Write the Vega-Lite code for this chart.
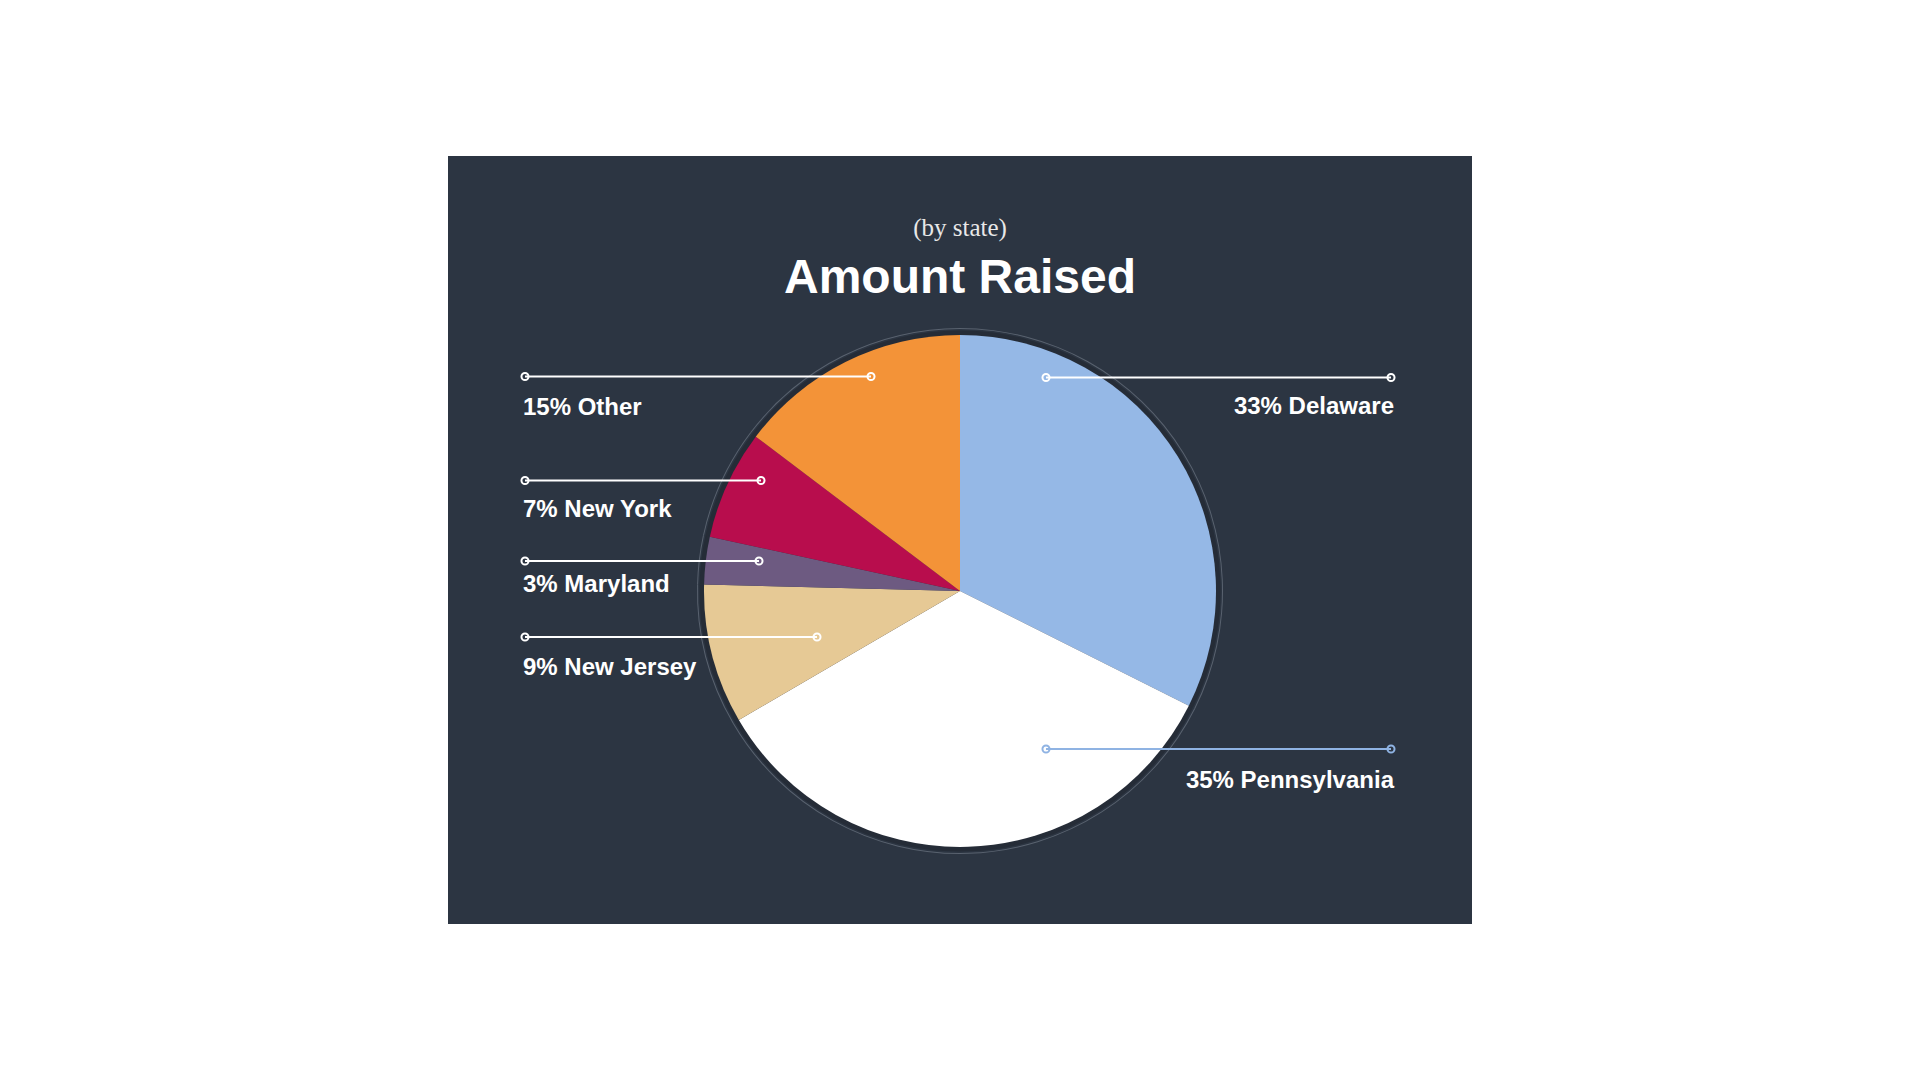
{
  "$schema": "https://vega.github.io/schema/vega-lite/v6.json",
  "width": 1024,
  "height": 768,
  "padding": {"left": 448, "top": 156, "right": 448, "bottom": 156},
  "background": "#ffffff",
  "config": {
    "view": {"fill": "#2c3542", "stroke": null}
  },
  "title": {
    "text": "(by state)",
    "subtitle": "Amount Raised",
    "anchor": "middle",
    "font": "Liberation Serif",
    "fontSize": 25,
    "fontWeight": "normal",
    "color": "#e8e8e8",
    "subtitleFont": "Liberation Sans",
    "subtitleFontSize": 48,
    "subtitleFontWeight": "bold",
    "subtitleColor": "#ffffff",
    "subtitlePadding": 14,
    "offset": -147
  },
  "data": {
    "values": [
      {"state": "Delaware", "share": 32.4, "label": "33% Delaware", "pos": 1, "side": "right"},
      {"state": "Pennsylvania", "share": 34.2, "label": "35% Pennsylvania", "pos": 2, "side": "right"},
      {"state": "New Jersey", "share": 8.8, "label": "9% New Jersey", "pos": 3, "side": "left"},
      {"state": "Maryland", "share": 3.0, "label": "3% Maryland", "pos": 4, "side": "left"},
      {"state": "New York", "share": 6.9, "label": "7% New York", "pos": 5, "side": "left"},
      {"state": "Other", "share": 14.7, "label": "15% Other", "pos": 6, "side": "left"}
    ]
  },
  "transform": [
    {"calculate": "datum.pos + 10", "as": "pos_out"}
  ],
  "layer": [
    {
      "mark": {"type": "arc", "outerRadius": 263, "innerRadius": 262, "fill": "#59626f", "yOffset": 51},
      "encoding": {
        "theta": {"field": "share", "type": "quantitative", "stack": true},
        "order": {"field": "pos", "type": "quantitative"}
      }
    },
    {
      "mark": {"type": "arc", "outerRadius": 260.5, "innerRadius": 248, "fill": "#252c37", "yOffset": 51},
      "encoding": {
        "theta": {"field": "share", "type": "quantitative", "stack": true},
        "order": {"field": "pos", "type": "quantitative"}
      }
    },
    {
      "mark": {"type": "arc", "outerRadius": 256, "yOffset": 51},
      "encoding": {
        "theta": {"field": "share", "type": "quantitative", "stack": true},
        "order": {"field": "pos", "type": "quantitative"},
        "color": {
          "field": "state",
          "type": "nominal",
          "legend": null,
          "scale": {
            "domain": ["Delaware", "Pennsylvania", "New Jersey", "Maryland", "New York", "Other"],
            "range": ["#95b8e6", "#ffffff", "#e6c995", "#6d5a81", "#b80d4d", "#f39338"]
          }
        }
      }
    },
    {
      "mark": {"type": "rule", "strokeWidth": 2},
      "encoding": {
        "x": {
          "field": "pos",
          "type": "quantitative",
          "axis": null,
          "scale": {
            "domain": [1, 2, 3, 4, 5, 6, 11, 12, 13, 14, 15, 16],
            "range": [598, 598, 369, 311, 313, 423, 943, 943, 77, 77, 77, 77],
            "nice": false,
            "zero": false
          }
        },
        "x2": {"field": "pos_out"},
        "y": {
          "field": "pos",
          "type": "quantitative",
          "axis": null,
          "scale": {
            "domain": [1, 2, 3, 4, 5, 6, 11, 12, 13, 14, 15, 16],
            "range": [221.5, 593, 481, 405, 324.5, 220.5, 258, 632, 519, 436, 361, 259],
            "nice": false,
            "zero": false
          }
        },
        "color": {
          "condition": {"test": "datum.state === 'Pennsylvania'", "value": "#8fb3e3"},
          "value": "#ffffff"
        }
      }
    },
    {
      "mark": {"type": "point", "filled": false, "size": 50, "strokeWidth": 2, "opacity": 1},
      "encoding": {
        "x": {"field": "pos", "type": "quantitative"},
        "y": {"field": "pos", "type": "quantitative"},
        "color": {
          "condition": {"test": "datum.state === 'Pennsylvania'", "value": "#8fb3e3"},
          "value": "#ffffff"
        }
      }
    },
    {
      "mark": {"type": "point", "filled": false, "size": 50, "strokeWidth": 2, "opacity": 1},
      "encoding": {
        "x": {"field": "pos_out", "type": "quantitative"},
        "y": {"field": "pos", "type": "quantitative"},
        "color": {
          "condition": {"test": "datum.state === 'Pennsylvania'", "value": "#8fb3e3"},
          "value": "#ffffff"
        }
      }
    },
    {
      "transform": [{"filter": "datum.side === 'left'"}],
      "mark": {"type": "text", "align": "left", "baseline": "alphabetic", "dx": -2, "font": "Liberation Sans", "fontWeight": "bold", "fontSize": 24, "color": "#ffffff"},
      "encoding": {
        "x": {"field": "pos_out", "type": "quantitative"},
        "y": {"field": "pos_out", "type": "quantitative"},
        "text": {"field": "label"}
      }
    },
    {
      "transform": [{"filter": "datum.side === 'right'"}],
      "mark": {"type": "text", "align": "right", "baseline": "alphabetic", "dx": 3, "font": "Liberation Sans", "fontWeight": "bold", "fontSize": 24, "color": "#ffffff"},
      "encoding": {
        "x": {"field": "pos_out", "type": "quantitative"},
        "y": {"field": "pos_out", "type": "quantitative"},
        "text": {"field": "label"}
      }
    }
  ]
}
